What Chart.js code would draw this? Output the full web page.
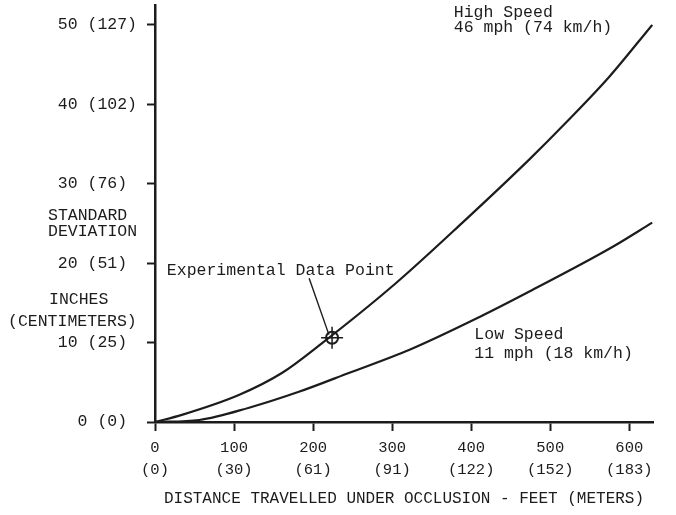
<!DOCTYPE html>
<html>
<head>
<meta charset="utf-8">
<script src="https://cdn.jsdelivr.net/npm/chart.js@4"></script>
<style>
  html, body { margin: 0; padding: 0; background: #fff; }
</style>
</head>
<body>
<canvas id="chart" width="676" height="515"></canvas>
<script>
// distance (feet) vs standard deviation (inches)
const highX = [0, 34, 106, 161, 211, 305, 389, 473, 520, 575, 629];
const highY = [0, 0.9, 3.4, 6.2, 9.9, 17.5, 25.1, 33.0, 37.7, 43.5, 50.0];
const lowX = [0, 56, 119, 182, 246, 322, 410, 473, 578, 629];
const lowY = [0, 0.25, 1.8, 3.8, 6.2, 9.1, 13.2, 16.4, 22.0, 25.1];

const expX = [224];
const expY = [10.6];
const leaderX = [195, 220];
const leaderY = [18.1, 11.0];

const xFeet = [0, 100, 200, 300, 400, 500, 600];
const xMeters = [0, 30, 61, 91, 122, 152, 183];
const yInches = [0, 10, 20, 30, 40, 50];
const yTickLabels = ['0 (0) ', '10 (25) ', '20 (51) ', '30 (76) ', '40 (102)', '50 (127)'];

const ink = '#1c1c1c';
const mono = '"Liberation Mono", "DejaVu Sans Mono", monospace';

const notes = [
  { text: 'Experimental Data Point', x: 15, y: 19.0 },
  { text: 'High Speed', x: 378, y: 51.6 },
  { text: '46 mph (74 km/h)', x: 378, y: 49.6 },
  { text: 'Low Speed', x: 404, y: 11.0 },
  { text: '11 mph (18 km/h)', x: 404, y: 8.6 }
];

// axis caption to the left of the y axis (offsets from the axis line)
const sideLabels = [
  { text: 'STANDARD', dx: -107, dy: 216 },
  { text: 'DEVIATION', dx: -107, dy: 232 },
  { text: 'INCHES', dx: -106, dy: 300 },
  { text: '(CENTIMETERS)', dx: -147, dy: 322 }
];

const toPts = (xs, ys) => xs.map((x, i) => ({ x, y: ys[i] }));

const notesPlugin = {
  id: 'notes',
  afterDraw(chart) {
    const { ctx, chartArea, scales: { x, y } } = chart;
    ctx.save();
    ctx.fillStyle = ink;
    ctx.textAlign = 'left';
    ctx.textBaseline = 'middle';
    ctx.font = '16.5px ' + mono;
    notes.forEach(n => ctx.fillText(n.text, x.getPixelForValue(n.x), y.getPixelForValue(n.y)));
    sideLabels.forEach(s => ctx.fillText(s.text, chartArea.left + s.dx, s.dy));
    ctx.restore();
  }
};

new Chart(document.getElementById('chart'), {
  type: 'scatter',
  data: {
    datasets: [
      {
        label: 'High Speed',
        data: toPts(highX, highY),
        showLine: true,
        borderColor: ink,
        borderWidth: 2.2,
        pointRadius: 0,
        cubicInterpolationMode: 'monotone'
      },
      {
        label: 'Low Speed',
        data: toPts(lowX, lowY),
        showLine: true,
        borderColor: ink,
        borderWidth: 2.2,
        pointRadius: 0,
        cubicInterpolationMode: 'monotone'
      },
      {
        label: 'leader',
        data: toPts(leaderX, leaderY),
        showLine: true,
        borderColor: ink,
        borderWidth: 1.4,
        pointRadius: 0
      },
      {
        label: 'Experimental Data Point',
        data: toPts(expX, expY),
        pointStyle: 'circle',
        pointRadius: 6,
        borderWidth: 2,
        borderColor: ink,
        backgroundColor: 'rgba(0,0,0,0)'
      },
      {
        label: 'crosshair',
        data: toPts(expX, expY),
        pointStyle: 'cross',
        pointRadius: 11,
        borderWidth: 1.5,
        borderColor: ink
      }
    ]
  },
  options: {
    responsive: false,
    animation: false,
    layout: { autoPadding: false, padding: { top: 5, right: 23, left: 0, bottom: 0 } },
    plugins: { legend: { display: false }, tooltip: { enabled: false } },
    scales: {
      x: {
        type: 'linear',
        min: 0,
        max: 630,
        afterBuildTicks: s => { s.ticks = xFeet.map(v => ({ value: v })); },
        afterFit: s => { s.height = 93; s.paddingLeft = 0; s.paddingRight = 0; },
        ticks: {
          padding: 6,
          color: ink,
          font: { family: mono, size: 15.5, lineHeight: '22px' },
          callback: (v, i) => [String(xFeet[i]), '(' + xMeters[i] + ')']
        },
        grid: { drawOnChartArea: false, tickLength: 9, tickColor: ink, tickWidth: 2 },
        border: { color: ink, width: 2.5 },
        title: {
          display: true,
          text: 'DISTANCE TRAVELLED UNDER OCCLUSION - FEET (METERS)',
          color: ink,
          font: { family: mono, size: 16 },
          padding: { top: 0, bottom: 7 }
        }
      },
      y: {
        min: 0,
        max: 52.5,
        afterBuildTicks: s => { s.ticks = yInches.map(v => ({ value: v })); },
        afterFit: s => { s.width = 155; s.paddingTop = 0; s.paddingBottom = 0; },
        ticks: {
          padding: 10,
          color: ink,
          font: { family: mono, size: 16.5 },
          callback: (v, i) => yTickLabels[i]
        },
        grid: { drawOnChartArea: false, tickLength: 8, tickColor: ink, tickWidth: 2 },
        border: { color: ink, width: 2.5 }
      }
    }
  },
  plugins: [notesPlugin]
});
</script>
</body>
</html>
